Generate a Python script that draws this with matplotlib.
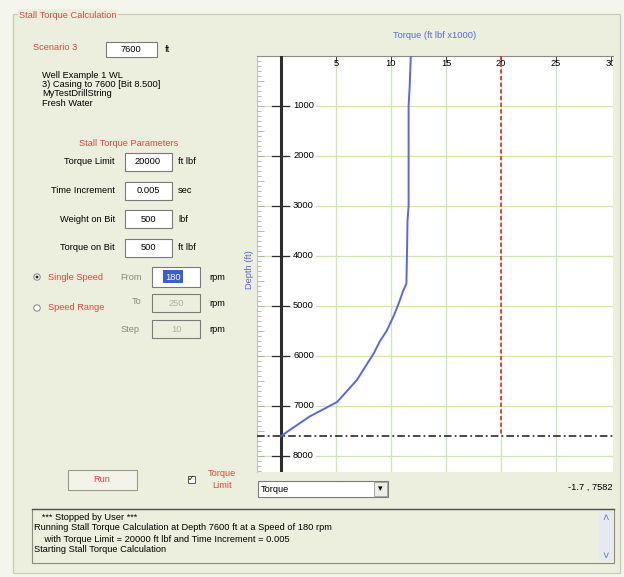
"""
Stall torque calculation screen: torque vs depth chart plus the form around it.
"""
import matplotlib
matplotlib.use("Agg")
import matplotlib.pyplot as plt
from matplotlib.patches import Rectangle, Circle

plt.rcParams["font.family"] = ["Liberation Sans", "DejaVu Sans"]

# chart data (torque in ft lbf x1000 vs depth in ft)
depth = [0, 600, 1000, 2000, 3000, 3300, 4000, 4550, 4700, 4950, 5220,
         5500, 5700, 5960, 6480, 6920, 7210, 7600]
torque = [11.8, 11.7, 11.6, 11.6, 11.6, 11.5, 11.45, 11.4, 11.1, 10.7, 10.2,
          9.6, 9.0, 8.4, 6.9, 5.1, 2.6, 0.0]
torque_limit = 20.0          # x1000 ft lbf
bit_depth = 7600
x_ticks = [5, 10, 15, 20, 25, 30]
y_ticks = [1000, 2000, 3000, 4000, 5000, 6000, 7000, 8000]

info_lines = ["Well Example 1 WL", "3) Casing to 7600 [Bit 8.500]",
              "MyTestDrillString", "Fresh Water"]
param_names = ["Torque Limit", "Time Increment", "Weight on Bit", "Torque on Bit"]
param_values = ["20000", "0.005", "500", "500"]
param_units = ["ft lbf", "sec", "lbf", "ft lbf"]
log_lines = ["   *** Stopped by User ***",
             "Running Stall Torque Calculation at Depth 7600 ft at a Speed of 180 rpm",
             "    with Torque Limit = 20000 ft lbf and Time Increment = 0.005",
             "Starting Stall Torque Calculation"]

W, H = 624, 577
BG_OUT = "#F4F5EC"
BG = "#EDEFDE"
RED = "#E8433E"
BLUE = "#5A66E6"
FS = 6.7

fig = plt.figure(figsize=(W / 100, H / 100), dpi=100, facecolor=BG_OUT)

# ---- form layer, pixel coordinates ----
ui = fig.add_axes([0, 0, 1, 1])
ui.set_xlim(0, W); ui.set_ylim(H, 0); ui.axis("off")


def box(x0, y0, x1, y1, fc="white", ec="#7A7A7A", lw=0.8, z=2):
    ui.add_patch(Rectangle((x0, y0), x1 - x0, y1 - y0, fc=fc, ec=ec, lw=lw, zorder=z))


def txt(x, y, s, ha="left", c="black", fs=FS, **kw):
    ui.text(x, y, s, ha=ha, va="center", color=c, fontsize=fs, zorder=5, **kw)


box(13, 14, 620, 573, fc=BG, ec="#C9CBB8", lw=0.9, z=1)
txt(19, 15, "Stall Torque Calculation", c=RED, bbox=dict(fc=BG, ec="none", pad=1))

txt(33, 47, "Scenario 3", c=RED)
box(106, 42, 157, 57)
txt(131, 49, "7600", ha="center")
txt(165, 49, "ft")
for i, s in enumerate(info_lines):
    txt(42, 75 + i * 9.5, s)

txt(129, 143, "Stall Torque Parameters", ha="center", c=RED)
for i, (n, v, u) in enumerate(zip(param_names, param_values, param_units)):
    yc = 162 + i * 28.5
    txt(115, yc, n, ha="right")
    box(125, yc - 9, 172, yc + 9)
    txt(148, yc, v, ha="center")
    txt(178, yc, u)

# speed options
ui.add_patch(Circle((37, 277), 3.2, fc="white", ec="#808080", lw=0.7, zorder=3))
ui.add_patch(Circle((37, 277), 1.4, fc="#202020", ec="none", zorder=4))
txt(48, 277, "Single Speed", c=RED)
ui.add_patch(Circle((37, 308), 3.2, fc="white", ec="#808080", lw=0.7, zorder=3))
txt(48, 308, "Speed Range", c=RED)

txt(120, 277, "From", c="#8A8A7A")
box(152, 267, 200, 287)
box(163, 270, 183, 283, fc="#3A5FD0", ec="none", z=3)
txt(173, 277, "180", ha="center", c="white")
txt(132, 302, "To", c="#8A8A7A")
box(152, 294, 200, 312, fc=BG)
txt(176, 303, "250", ha="center", c="#B0B0A0")
txt(121, 329, "Step", c="#8A8A7A")
box(152, 320, 200, 338, fc=BG)
txt(176, 329, "10", ha="center", c="#B0B0A0")
for yc in [277, 303, 329]:
    txt(209, yc, "rpm")

# run button / checkbox / combo
box(68, 470, 137, 490, fc="#F3F3EA", ec="#9A9A8A")
txt(102, 480, "Run", ha="center", c=RED)
box(188, 476, 195, 483, fc="white", ec="#5A5A5A", lw=0.7)
txt(191.5, 479, "\u2713", ha="center", fs=5.5)
txt(222, 474, "Torque", ha="center", c=RED)
txt(222, 485, "Limit", ha="center", c=RED)
box(258, 481, 388, 497)
txt(261, 489, "Torque")
box(374, 482, 387, 496, fc="#EDEDE5", ec="#9A9A9A", lw=0.6, z=3)
txt(380.5, 489, "\u25BE", ha="center", fs=6.5)
txt(612, 487, "-1.7 , 7582", ha="right")

# message box
box(32, 509, 614, 563, fc=BG, ec="#8A8A80", lw=0.8)
ui.plot([32, 614], [509, 509], color="#505050", lw=1.0, zorder=3)
box(599, 511, 612, 561, fc="#E6EAF0", ec="none", z=3)
txt(605.5, 518, "\u02C4", ha="center", c="#5A7AD0", fs=8)
txt(605.5, 556, "\u02C5", ha="center", c="#5A7AD0", fs=8)
for i, s in enumerate(log_lines):
    txt(34, 517 + i * 11, s)

# ---- chart ----
px_left, px_right, px_top, px_bot = 257, 613, 56, 472
ax = fig.add_axes([px_left / W, 1 - px_bot / H,
                   (px_right - px_left) / W, (px_bot - px_top) / H])
ax.set_facecolor("white")
ax.set_xlim((px_left - 281) / 11, (px_right - 281) / 11)
ax.set_ylim((px_bot - px_top) * 20, 0)

grid_c = "#CFE6B0"
for xv in x_ticks[:-1]:
    ax.axvline(xv, color=grid_c, lw=0.9, zorder=1)
for yv in y_ticks:
    ax.axhline(yv, color=grid_c, lw=0.9, zorder=1)

ax.axvline(0, color="#2E2E2E", lw=2.2, zorder=3)
for yv in y_ticks:
    ax.plot([-0.8, 0.7], [yv, yv], color="#2E2E2E", lw=0.9, zorder=3)
    ax.text(1.1, yv, str(yv), fontsize=6.7, va="center", ha="left", zorder=4,
            bbox=dict(fc="white", ec="none", pad=1.2))

for xv in x_ticks:
    ax.text(xv, 150, str(xv), fontsize=6.7, ha="center", va="center", zorder=4,
            clip_on=True)

ax.plot(torque, depth, color=BLUE, lw=1.4, zorder=5)
ax.vlines(torque_limit, 0, bit_depth, color="#E02828", lw=1.2,
          linestyles=(0, (2.5, 1.5)), zorder=4)
ax.axhline(bit_depth, color="#1A1A1A", lw=1.1, ls=(0, (5, 2, 1.2, 2)), zorder=6)

ax.set_xticks(x_ticks)
ax.xaxis.tick_top()
ax.tick_params(axis="x", direction="in", length=4, width=0.7, color="#404040",
               labeltop=False)
ax.set_yticks(range(0, 8400, 500))
ax.set_yticks(range(0, 8400, 100), minor=True)
ax.tick_params(axis="y", which="both", direction="in", length=3, width=0.5,
               color="#9A9A9A", labelleft=False)
ax.tick_params(axis="y", which="major", length=5)
for side in ["right", "bottom"]:
    ax.spines[side].set_visible(False)
ax.spines["top"].set_color("#8A8A8A")
ax.spines["left"].set_color("#C0C0C0")

txt(435, 36, "Torque (ft lbf x1000)", ha="center", c=BLUE)
txt(249, 270, "Depth (ft)", ha="center", c=BLUE, rotation=90)

fig.savefig("out.png", dpi=100, facecolor=fig.get_facecolor())
